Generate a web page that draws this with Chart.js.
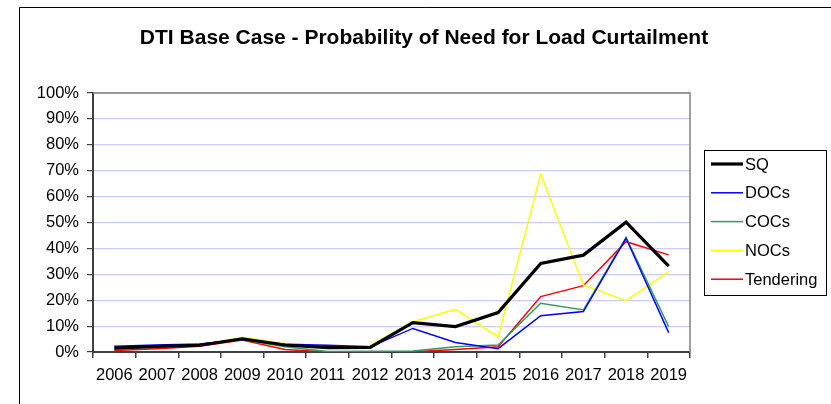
<!DOCTYPE html>
<html>
<head>
<meta charset="utf-8">
<script src="https://cdn.jsdelivr.net/npm/chart.js@4"></script>
<style>
html,body{margin:0;padding:0;background:#fff;}
#wrap{width:831px;height:404px;position:relative;}
</style>
</head>
<body>
<div id="wrap"><canvas id="c" width="831" height="404"></canvas></div>
<script>
const years = ['2006','2007','2008','2009','2010','2011','2012','2013','2014','2015','2016','2017','2018','2019'];
const sq        = [1.5, 2.2, 2.6, 5.1, 2.7, 1.7, 1.8, 11.3, 9.8, 15.2, 34.2, 37.4, 50.1, 33.2];
const docs      = [2.2, 2.7, 3.1, 4.8, 3.0, 2.6, 2.0, 9.1, 3.7, 1.3, 14.0, 15.6, 43.9, 7.5];
const cocs      = [1.2, 2.0, 3.0, 4.8, 2.0, 0.2, 0.3, 0.4, 2.0, 2.7, 18.8, 16.2, 44.3, 9.8];
const nocs      = [1.4, 2.1, 2.6, 5.7, 3.3, 2.4, 2.5, 11.7, 16.5, 5.9, 68.7, 25.9, 19.8, 31.0];
const tendering = [0.6, 1.3, 2.2, 4.6, 1.0, 0.0, 0.0, 0.1, 1.0, 2.0, 21.4, 25.6, 42.6, 37.5];
const yTicks = [0,10,20,30,40,50,60,70,80,90,100];
const titleText = 'DTI Base Case - Probability of Need for Load Curtailment';

const FONT = '"Liberation Sans", Arial, sans-serif';

const decor = {
  id: 'decor',
  beforeDraw(chart) {
    const ctx = chart.ctx;
    ctx.save();
    ctx.fillStyle = '#fff';
    ctx.fillRect(0,0,chart.width,chart.height);
    ctx.strokeStyle = '#000';
    ctx.lineWidth = 1;
    ctx.beginPath();
    ctx.moveTo(19.5, 420); ctx.lineTo(19.5, 7.5); ctx.lineTo(840, 7.5);
    ctx.stroke();
    ctx.fillStyle = '#000';
    ctx.font = 'bold 21px ' + FONT;
    ctx.textAlign = 'center';
    ctx.textBaseline = 'middle';
    ctx.fillText(titleText, 424, 38);
    ctx.restore();
  },
  afterDraw(chart) {
    const ctx = chart.ctx;
    const a = chart.chartArea;
    ctx.save();
    ctx.strokeStyle = '#808080';
    ctx.lineWidth = 1.5;
    ctx.beginPath();
    ctx.moveTo(a.left, a.top); ctx.lineTo(a.right, a.top); ctx.lineTo(a.right, a.bottom);
    ctx.stroke();
    const lx = 704.5, ly = 150.5, lw = 122, lh = 145;
    ctx.fillStyle = '#fff';
    ctx.fillRect(lx, ly, lw, lh);
    ctx.strokeStyle = '#000';
    ctx.lineWidth = 1;
    ctx.strokeRect(lx, ly, lw, lh);
    ctx.font = '16.5px ' + FONT;
    ctx.textAlign = 'left';
    ctx.textBaseline = 'middle';
    chart.data.datasets.forEach((ds, i) => {
      const y = 164 + i * 28.8;
      ctx.strokeStyle = ds.borderColor;
      ctx.lineWidth = ds.borderWidth;
      ctx.beginPath();
      ctx.moveTo(711, y); ctx.lineTo(743, y);
      ctx.stroke();
      ctx.fillStyle = '#000';
      ctx.fillText(ds.label, 745, y + 1);
    });
    ctx.restore();
  }
};

new Chart(document.getElementById('c'), {
  type: 'line',
  data: {
    labels: years,
    datasets: [
      {label:'SQ', data: sq, borderColor:'#000000', borderWidth:3.2},
      {label:'DOCs', data: docs, borderColor:'#0000ff', borderWidth:1.5},
      {label:'COCs', data: cocs, borderColor:'#339966', borderWidth:1.5},
      {label:'NOCs', data: nocs, borderColor:'#ffff00', borderWidth:1.5},
      {label:'Tendering', data: tendering, borderColor:'#ff0000', borderWidth:1.5}
    ]
  },
  options: {
    responsive: false,
    animation: false,
    events: [],
    layout: { padding: { left: 0, right: 141, top: 93, bottom: 0 } },
    elements: { point: { radius: 0 }, line: { tension: 0, borderJoinStyle: 'miter', fill: false } },
    plugins: { legend: { display: false }, title: { display: false }, tooltip: { enabled: false } },
    scales: {
      x: {
        type: 'category',
        offset: true,
        grid: { offset: true, drawOnChartArea: false, drawTicks: true, tickLength: 6, tickColor: '#404040', lineWidth: 1.5 },
        border: { display: true, color: '#404040', width: 2 },
        ticks: { color: '#000', font: { family: FONT, size: 16.5 }, padding: 8, maxRotation: 0, autoSkip: false },
        afterFit(s) { s.height = 52; }
      },
      y: {
        min: 0, max: 100,
        afterBuildTicks(s) { s.ticks = yTicks.map(v => ({ value: v })); },
        grid: { color: '#ccccff', lineWidth: 1.2, drawTicks: true, tickLength: 6, tickColor: '#404040' },
        border: { display: true, color: '#404040', width: 2 },
        ticks: { color: '#000', font: { family: FONT, size: 16.5 }, padding: 8, callback: v => v + '%' },
        afterFit(s) { s.width = 93; }
      }
    }
  },
  plugins: [decor]
});
</script>
</body>
</html>
